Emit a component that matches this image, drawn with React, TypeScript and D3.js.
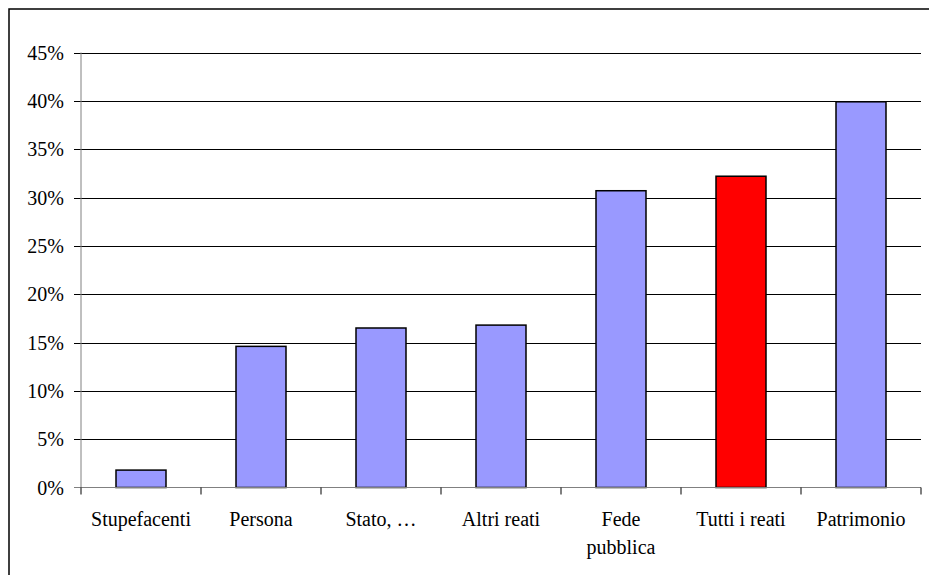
import React from "react";
import * as d3 from "d3";

const categories: string[][] = [
  ["Stupefacenti"],
  ["Persona"],
  ["Stato, …"],
  ["Altri reati"],
  ["Fede", "pubblica"],
  ["Tutti i reati"],
  ["Patrimonio"],
];
const values: number[] = [0.018, 0.146, 0.165, 0.168, 0.307, 0.322, 0.399];
const highlight: boolean[] = [false, false, false, false, false, true, false];
const yTicks: number[] = [0, 0.05, 0.1, 0.15, 0.2, 0.25, 0.3, 0.35, 0.4, 0.45];

export default function App() {
  const W = 929, H = 575;
  const left = 81, right = 921, top = 52.5, bottom = 487.5;
  const keys = categories.map((c) => c.join(" "));
  const x = d3.scaleBand<string>().domain(keys).range([left, right]).paddingInner(0).paddingOuter(0);
  const y = d3.scaleLinear().domain([0, 0.45]).range([bottom, top]);
  const barW = 50;
  const textStyle: React.CSSProperties = {
    fontFamily: '"Liberation Serif", "DejaVu Serif", serif',
    fontSize: "20px",
  };
  const fmt = d3.format(".0%");
  const boundaries = d3.range(keys.length + 1).map((i) => left + i * x.bandwidth());

  return (
    <div style={{ position: "fixed", left: 0, top: 0 }}>
      <svg width={W} height={H} style={{ display: "block", background: "#fff" }}>
        <rect x={9} y={9} width={W + 10} height={H + 10} fill="#fff" stroke="#000" strokeWidth={1.5} />
        {yTicks.filter((t) => t > 0).map((t) => (
          <line key={t} x1={74} x2={right} y1={Math.round(y(t)) + 0.5} y2={Math.round(y(t)) + 0.5} stroke="#000" strokeWidth={1} />
        ))}
        {yTicks.map((t) => (
          <text key={"l" + t} x={64} y={y(t) + 7} textAnchor="end" style={textStyle} fill="#000">
            {fmt(t)}
          </text>
        ))}
        {values.map((v, i) => (
          <rect
            key={i}
            x={(x(keys[i]) as number) + x.bandwidth() / 2 - barW / 2}
            y={y(v)}
            width={barW}
            height={y(0) - y(v)}
            fill={highlight[i] ? "#FF0000" : "#9999FF"}
            stroke="#000"
            strokeWidth={1.5}
          />
        ))}
        <line x1={left} x2={left} y1={top} y2={bottom} stroke="#808080" strokeWidth={1} />
        <line x1={74} x2={left} y1={bottom} y2={bottom} stroke="#808080" strokeWidth={1} />
        <line x1={left} x2={right} y1={bottom} y2={bottom} stroke="#808080" strokeWidth={1} />
        {boundaries.map((b, i) => (
          <line key={"t" + i} x1={b} x2={b} y1={bottom} y2={bottom + 7} stroke="#000" strokeWidth={1} />
        ))}
        {categories.map((lines, i) => (
          <text
            key={"c" + i}
            x={(x(keys[i]) as number) + x.bandwidth() / 2}
            y={526}
            textAnchor="middle"
            style={textStyle}
            fill="#000"
          >
            {lines.map((ln, j) => (
              <tspan key={j} x={(x(keys[i]) as number) + x.bandwidth() / 2} dy={j === 0 ? 0 : 28}>
                {ln}
              </tspan>
            ))}
          </text>
        ))}
      </svg>
    </div>
  );
}
